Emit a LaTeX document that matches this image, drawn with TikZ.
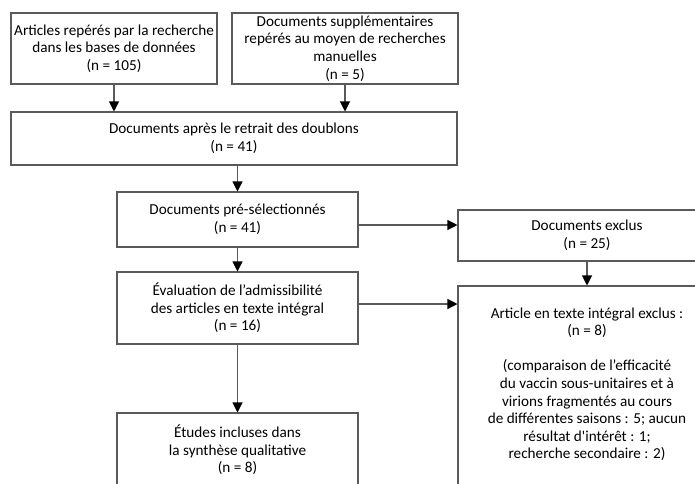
\documentclass[tikz,border=0pt]{standalone}
\usepackage{fontspec}
\setmainfont{Carlito}[Ligatures=TeXOff]
\usetikzlibrary{arrows.meta}
\definecolor{edgegray}{HTML}{5A5A5A}

\begin{document}
\begin{tikzpicture}[x=0.75pt,y=-0.75pt,
	box/.style={draw=edgegray,line width=0.8pt,align=center,inner sep=0pt,
		font=\fontsize{11.4}{13.2}\selectfont},
	arr/.style={draw=edgegray,line width=0.8pt,
		-{Triangle[length=7.5pt,width=7.5pt,color=black]}}]
	\def\px{0.75pt} %one pixel of the flow chart
	\useasboundingbox (0,0) rectangle (695,483);
	\clip (0,0) rectangle (695,483);
	
	%IDENTIFICATION
	\node[box,minimum width=206*\px,minimum height=71*\px] (search) at (114,48.5)
		{Articles repérés par la recherche\\dans les bases de données\\(n = 105)};
	\node[box,minimum width=226*\px,minimum height=71*\px] (manual) at (345,48.5)
		{Documents supplémentaires\\repérés au moyen de recherches\\manuelles\\(n = 5)};
	\node[box,minimum width=446*\px,minimum height=53*\px] (nodupl) at (234,138.5)
		{Documents après le retrait des doublons\\(n = 41)};
	
	%SCREENING
	\node[box,minimum width=241*\px,minimum height=55*\px] (presel) at (237.5,219.5)
		{Documents pré-sélectionnés\\(n = 41)};
	\node[box,minimum width=241*\px,minimum height=72*\px] (eligib) at (237.5,308)
		{Évaluation de l’admissibilité\\des articles en texte intégral\\(n = 16)};
	\node[box,minimum width=241*\px,minimum height=74*\px] (incl) at (237.5,450)
		{Études incluses dans\\la synthèse qualitative\\(n = 8)};
	
	%EXCLUSIONS
	\node[box,minimum width=258*\px,minimum height=51*\px] (excl) at (587,235.5)
		{Documents exclus\\(n = 25)};
	\node[box,minimum width=258*\px,minimum height=212*\px] (fulltxt) at (587,392)
		{Article en texte intégral exclus :\\(n = 8)\\~\\
		(comparaison de l’efficacité\\du vaccin sous-unitaires et à\\
		virions fragmentés au cours\\de différentes saisons : 5; aucun\\
		résultat d'intérêt : 1;\\recherche secondaire : 2)\\~};
	
	%ARROWS
	\coordinate (dg) at (0,225);
	\coordinate (eh) at (0,304);
	\draw[arr] (search.south) -- (search.south |- nodupl.north);
	\draw[arr] (manual.south) -- (manual.south |- nodupl.north);
	\draw[arr] (presel.north |- nodupl.south) -- (presel.north);
	\draw[arr] (presel) -- (eligib);
	\draw[arr] (eligib) -- (incl);
	\draw[arr] (presel.east |- dg) -- (excl.west |- dg);
	\draw[arr] (eligib.east |- eh) -- (fulltxt.west |- eh);
	\draw[arr] (excl) -- (fulltxt);
\end{tikzpicture}
\end{document}
